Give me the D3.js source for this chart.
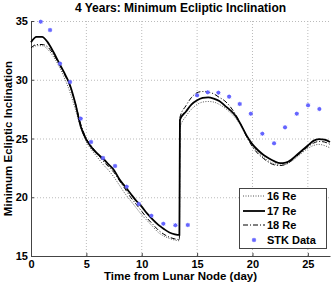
<!DOCTYPE html>
<html><head><meta charset="utf-8">
<script src="https://cdn.jsdelivr.net/npm/d3@7"></script>
<style>body{margin:0;background:#fff}svg{display:block}text{font-family:"Liberation Sans",Arial,sans-serif;font-weight:bold}</style>
</head><body><svg id="c" width="333" height="285"></svg>
<script>
const days = [0,0.5,1,1.5,2,2.5,3,3.5,4,4.5,5,5.5,6,6.5,7,7.5,8,8.5,9,9.5,10,10.5,11,11.5,12,12.5,13,13.4,13.45,14,14.5,15,15.5,16,16.5,17,17.5,18,18.5,19,19.5,20,20.5,21,21.5,22,22.5,23,23.5,24,24.5,25,25.5,26,26.5,27];
const re16 = [32.6,32.9,32.9,32.6,32.0,31.2,30.2,29.0,27.5,25.9,24.7,24.0,23.4,22.8,22.3,21.7,21.0,20.3,19.7,19.1,18.5,18.0,17.5,17.0,16.7,16.5,16.35,16.3,25.9,26.9,27.5,27.9,28.1,28.15,28.1,27.9,27.6,27.2,26.7,26.0,25.1,24.4,23.8,23.4,23.05,22.85,22.75,22.8,23.05,23.4,23.8,24.15,24.4,24.5,24.4,24.2];
const re17 = [33.2,33.65,33.65,33.2,32.4,31.5,30.6,29.6,28.0,26.0,24.9,24.2,23.7,23.3,22.8,22.3,21.5,20.9,20.3,19.7,19.2,18.6,18.1,17.65,17.3,17.0,16.85,16.8,26.6,27.3,27.9,28.25,28.45,28.5,28.4,28.2,27.8,27.4,26.9,26.1,25.2,24.5,24.0,23.6,23.3,23.05,22.9,22.95,23.2,23.6,24.0,24.4,24.8,24.95,24.9,24.7];
const re18 = [32.7,33.0,33.0,32.8,32.2,31.4,30.5,29.5,28.0,26.2,25.0,24.3,23.7,23.1,22.6,22.1,21.4,20.7,20.0,19.4,18.8,18.2,17.7,17.2,16.85,16.6,16.45,16.4,26.8,27.8,28.5,28.9,29.0,28.95,28.8,28.5,28.2,27.7,27.0,26.1,25.1,24.3,23.7,23.3,22.95,22.75,22.7,22.8,23.1,23.5,23.9,24.3,24.6,24.75,24.7,24.5];
const stkDays = [0.88,1.72,2.62,3.52,4.49,5.42,6.5,7.59,8.64,9.73,10.87,11.95,13.04,14.16,15.0,15.96,16.92,17.89,18.85,19.85,20.89,21.95,22.94,24.0,25.02,26.04];
const stkVals = [34.94,34.23,31.37,29.81,26.69,24.7,23.34,22.66,20.9,19.43,18.42,17.74,17.62,17.64,28.68,28.93,28.9,28.56,27.94,27.11,25.41,24.59,25.95,27.11,27.83,27.51];
const xTicks = [0,5,10,15,20,25];
const yTicks = [15,20,25,30,35];
const legendLabels = ["16 Re","17 Re","18 Re","STK Data"];

const svg = d3.select("#c");
const L=31, R=330, T=21, B=256;
const x = d3.scaleLinear().domain([0,27]).range([L,R]);
const y = d3.scaleLinear().domain([15,35]).range([B,T]);

// grid
const g = svg.append("g");
g.selectAll(".gx").data(xTicks.filter(d=>d>0)).enter().append("line")
 .attr("x1",d=>x(d)).attr("x2",d=>x(d)).attr("y1",T).attr("y2",B)
 .attr("stroke","#bbb").attr("stroke-width",1).attr("stroke-dasharray","1,2");
g.selectAll(".gy").data(yTicks.filter(d=>d>15)).enter().append("line")
 .attr("y1",d=>y(d)+0.5).attr("y2",d=>y(d)+0.5).attr("x1",L).attr("x2",R)
 .attr("stroke","#bbb").attr("stroke-width",1).attr("stroke-dasharray","1,2");

// axes
const xa = svg.append("g").attr("transform",`translate(0,${B})`)
 .call(d3.axisBottom(x).tickValues(xTicks).tickSizeInner(-3).tickSizeOuter(0).tickPadding(4));
const ya = svg.append("g").attr("transform",`translate(${L},0)`)
 .call(d3.axisLeft(y).tickValues(yTicks).tickSizeInner(-3).tickSizeOuter(0).tickPadding(3));
[xa,ya].forEach(a=>{a.select(".domain").attr("stroke","#444");a.selectAll(".tick line").attr("stroke","#444");
 a.selectAll("text").attr("font-size",11).attr("font-weight","bold").attr("fill","#000").attr("font-family","Liberation Sans, Arial, sans-serif");});

// lines
const mk = vals => d3.line().x((d,i)=>x(days[i])).y(d=>y(d)).curve(d3.curveMonotoneX)(vals);
svg.append("path").attr("d",mk(re16)).attr("fill","none").attr("stroke","#555").attr("stroke-width",1).attr("stroke-dasharray","1,1.5");
svg.append("path").attr("d",mk(re18)).attr("fill","none").attr("stroke","#000").attr("stroke-width",1).attr("stroke-dasharray","5,2,1,2");
svg.append("path").attr("d",mk(re17)).attr("fill","none").attr("stroke","#000").attr("stroke-width",1.8);

// STK markers
const star = (sel,cx,cy)=>{
 const s=sel.append("g").attr("transform",`translate(${cx},${cy})`);
 s.append("circle").attr("r",1.8).attr("fill","#4d4dff");
 s.append("path").attr("d","M-2.2,0H2.2M0,-2.2V2.2M-1.6,-1.6L1.6,1.6M-1.6,1.6L1.6,-1.6").attr("stroke","#6a6aff").attr("stroke-width",0.8);
};
stkDays.forEach((d,i)=>star(svg,x(d),y(stkVals[i])));

// title & labels
svg.append("text").attr("x",(L+R)/2).attr("y",12).attr("text-anchor","middle").attr("font-size",12).text("4 Years: Minimum Ecliptic Inclination");
svg.append("text").attr("x",(L+R)/2).attr("y",280).attr("text-anchor","middle").attr("font-size",11.5).text("Time from Lunar Node (day)");
svg.append("text").attr("transform",`translate(12,${(T+B)/2}) rotate(-90)`).attr("text-anchor","middle").attr("font-size",11.5).text("Minimum Ecliptic Inclination");

// legend
const lg = svg.append("g");
lg.append("rect").attr("x",239.5).attr("y",188.5).attr("width",87).attr("height",60).attr("fill","#fff").attr("stroke","#444");
const ly = [196,211,225,240];
const styles = [{s:"#555",w:1,d:"1,1.5"},{s:"#000",w:1.8,d:null},{s:"#000",w:1,d:"5,2,1,2"}];
styles.forEach((st,i)=>{lg.append("line").attr("x1",243).attr("x2",265).attr("y1",ly[i]).attr("y2",ly[i])
 .attr("stroke",st.s).attr("stroke-width",st.w).attr("stroke-dasharray",st.d);});
star(lg,254,ly[3]);
legendLabels.forEach((t,i)=>lg.append("text").attr("x",267).attr("y",ly[i]+4).attr("font-size",11).text(t));
</script></body></html>
